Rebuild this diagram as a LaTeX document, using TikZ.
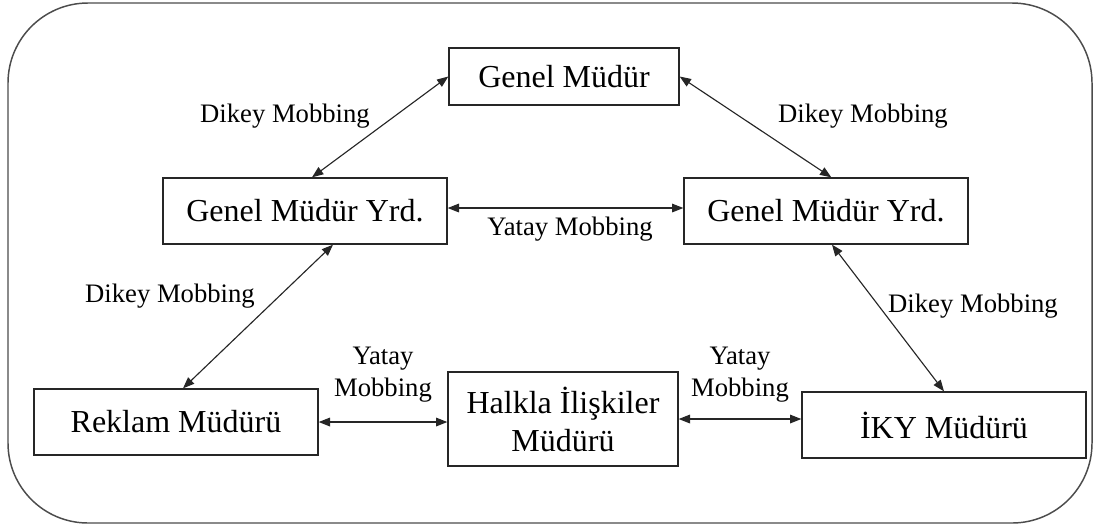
\documentclass[tikz,border=0pt]{standalone}
\usepackage{fontspec}
\setmainfont{Liberation Serif}
\usetikzlibrary{arrows.meta}
\begin{document}
\begin{tikzpicture}[x=0.75pt,y=-0.75pt,
  box/.style={draw=black!85, line width=1pt, inner sep=0pt, align=center,
    font=\fontsize{24}{28.5}\selectfont, minimum width=213pt, minimum height=49.5pt},
  lbl/.style={inner sep=0pt, align=center, font=\fontsize{20}{24}\selectfont},
  link/.style={line width=0.85pt, black!85, {Triangle[length=8.5pt,width=6.5pt]}-{Triangle[length=8.5pt,width=6.5pt]}}]
  \useasboundingbox (0,0) rectangle (1094,526);
  % frame
  \draw[line width=1.1pt, black!70, rounded corners=60pt] (8,3) rectangle (1092,523);
  % positions
  \node[box, minimum width=172.5pt, minimum height=42.75pt] (gm) at (564,76.5) {Genel Müdür};
  \node[box] (gmyl) at (305,211) {Genel Müdür Yrd.};
  \node[box] (gmyr) at (826,211) {Genel Müdür Yrd.};
  \node[box] (rek) at (176,422) {Reklam Müdürü};
  \node[box, minimum width=172.5pt, minimum height=70.5pt] (hal) at (563,419) {Halkla İlişkiler\\Müdürü};
  \node[box] (iky) at (944,425) {İKY Müdürü};
  % connectors
  \draw[link] ([xshift=5.25pt]gmyl.north) -- (gm.west);
  \draw[link] (gm.east) -- ([xshift=4pt]gmyr.north);
  \draw[link] ([yshift=2.25pt]gmyl.east) -- ([yshift=2.25pt]gmyr.west);
  \draw[link] ([xshift=21pt]gmyl.south) -- ([xshift=5.25pt]rek.north);
  \draw[link] ([xshift=4.5pt]gmyr.south) -- (iky.north);
  \draw[link] (rek.east) -- (rek.east -| hal.west);
  \draw[link] (hal.east) -- (hal.east -| iky.west);
  % labels
  \node[lbl] (l1) at (285,116) {Dikey Mobbing};
  \node[lbl] (l2) at (863,116) {Dikey Mobbing};
  \node[lbl] (l3) at (570,229) {Yatay Mobbing};
  \node[lbl] (l4) at (170,296) {Dikey Mobbing};
  \node[lbl] (l5) at (973,306) {Dikey Mobbing};
  \node[lbl] (l6) at (383,375) {Yatay\\Mobbing};
  \node[lbl] (l7) at (740,375) {Yatay\\Mobbing};
\end{tikzpicture}
\end{document}
